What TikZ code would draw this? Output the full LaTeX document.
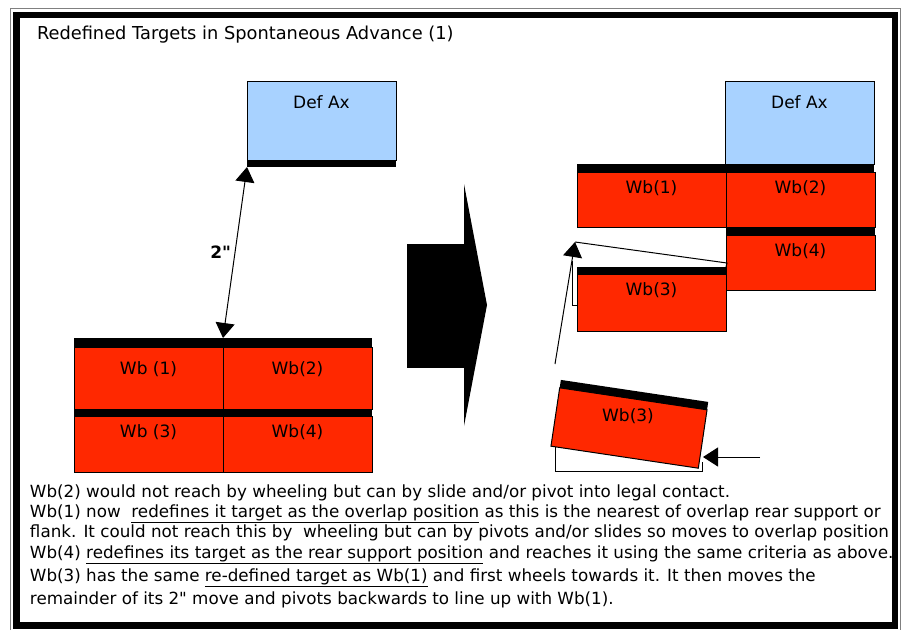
\documentclass[tikz,border=0pt]{standalone}
\usepackage{fontspec}
\setmainfont{DejaVu Sans}[Ligatures=TeXOff]
\usetikzlibrary{arrows.meta,positioning}
\definecolor{wbred}{RGB}{255,40,0}
\definecolor{axblue}{RGB}{168,210,255}

\begin{document}
\begin{tikzpicture}[x=1pt,y=-1pt,inner sep=0pt,outer sep=0pt,
    font=\fontsize{17}{20}\selectfont,
    >={Triangle[length=15pt,width=19pt]},
    unit/.style={draw,line width=1pt,minimum width=149pt,text height=21pt,text depth=#1},
    wb/.style={unit=#1,fill=wbred},
    ax/.style={unit=#1,fill=axblue,text height=27pt},
    front/.style={fill=black,minimum height=#1,minimum width=149pt},
    note/.style={anchor=base west,font=\fontsize{16.75}{20}\selectfont}]
    \fill[white] (0,0) rectangle (906,630);
    \useasboundingbox (0,0) rectangle (906,630);
    \node[anchor=base west,font=\fontsize{17.8}{20}\selectfont] (title) at (37,39) {Redefined Targets in Spontaneous Advance (1)};

    % before
    \node[ax=52pt] (def_0) at (321.5,120.5) {Def Ax};
    \node[front=7pt,below=0pt of def_0] (fr_0) {};
    \node[front=9pt,minimum width=298pt] (fr_1) at (223,342.5) {};
    \node[wb=35pt,text height=27pt,below right=0pt and 0pt of fr_1.south west] (wb_1) {Wb (1)};
    \node[wb=35pt,text height=27pt,right=0pt of wb_1] (wb_2) {Wb(2)};
    \node[front=7pt,minimum width=298pt,below right=0pt and 0pt of wb_1.south west] (fr_2) {};
    \node[wb=35pt,below right=0pt and 0pt of fr_2.south west] (wb_3) {Wb (3)};
    \node[wb=35pt,right=0pt of wb_3] (wb_4) {Wb(4)};
    \path[<->,line width=1pt] (fr_0.south west) edge node[left=4pt] {\bfseries 2"} (fr_1.north);

    \fill (407,244) rectangle (464,368);
    \fill (464,184) -- (487,305) -- (464,426) -- cycle;

    % after
    \node[ax=56pt] (def_1) at (799.5,122.5) {Def Ax};
    \node[front=8pt,minimum width=297pt,anchor=north east] (fr_3) at (def_1.south east) {};
    \node[wb=34pt,below right=0pt and 0pt of fr_3.south west] (rb_1) {Wb(1)};
    \node[wb=34pt,right=0pt of rb_1] (rb_2) {Wb(2)};
    \node[front=8pt,below=0pt of rb_2] (fr_4) {};
    \node[wb=34pt,below=0pt of fr_4] (rb_4) {Wb(4)};
    \node[front=7pt,anchor=north west] (fr_5) at (577,267) {};
    \node[wb=36pt,below=0pt of fr_5] (rb_3) {Wb(3)};

    \coordinate (tip) at (575,242);
    \coordinate (start) at (555,364);
    \draw[line width=1pt] (tip) -- (727,263) -- (fr_5.north east);
    \draw[line width=1pt] (572,261) |- (577,305);
    \draw[->,line width=1pt] (start) -- (tip);

    \draw[line width=1pt] (555,442) |- (702,471) -- (702,462);
    \node[wb=39pt,text height=20pt,rotate=-8.5] (pb_3) at (629,428) {};
    \node[front=8pt,rotate=-8.5,anchor=south] (fr_6) at (pb_3.north) {};
    \node (pl_3) at (628,416) {Wb(3)};
    \coordinate (push) at (760,457);
    \coordinate (hit) at (703,457);
    \draw[->,line width=1pt] (push) -- (hit);

    % notes
    \node[note] (n_1) at (30,497) {Wb(2) would not reach by wheeling but can by slide and/or pivot into legal contact.};
    \node[note] (n_2) at (30,517) {Wb(1) now\ \ \underline{redefines it target as the overlap position} as this is the nearest of overlap rear support or};
    \node[note] (n_3) at (30,537) {flank. It could not reach this by\ \ wheeling but can by pivots and/or slides so moves to overlap position};
    \node[note] (n_4) at (30,558) {Wb(4) \underline{redefines its target as the rear support position} and reaches it using the same criteria as above.};
    \node[note] (n_5) at (30,581) {Wb(3) has the same \underline{re-defined target as Wb(1)} and first wheels towards it. It then moves the};
    \node[note] (n_6) at (30,604) {remainder of its 2" move and pivots backwards to line up with Wb(1).};

    \draw[gray,line width=1pt] (10.5,630) -- (10.5,8.5) -- (900.5,8.5) -- (900.5,630);
    \draw[line width=6.7pt] (16.7,15) rectangle (895,625.7);
\end{tikzpicture}
\end{document}
